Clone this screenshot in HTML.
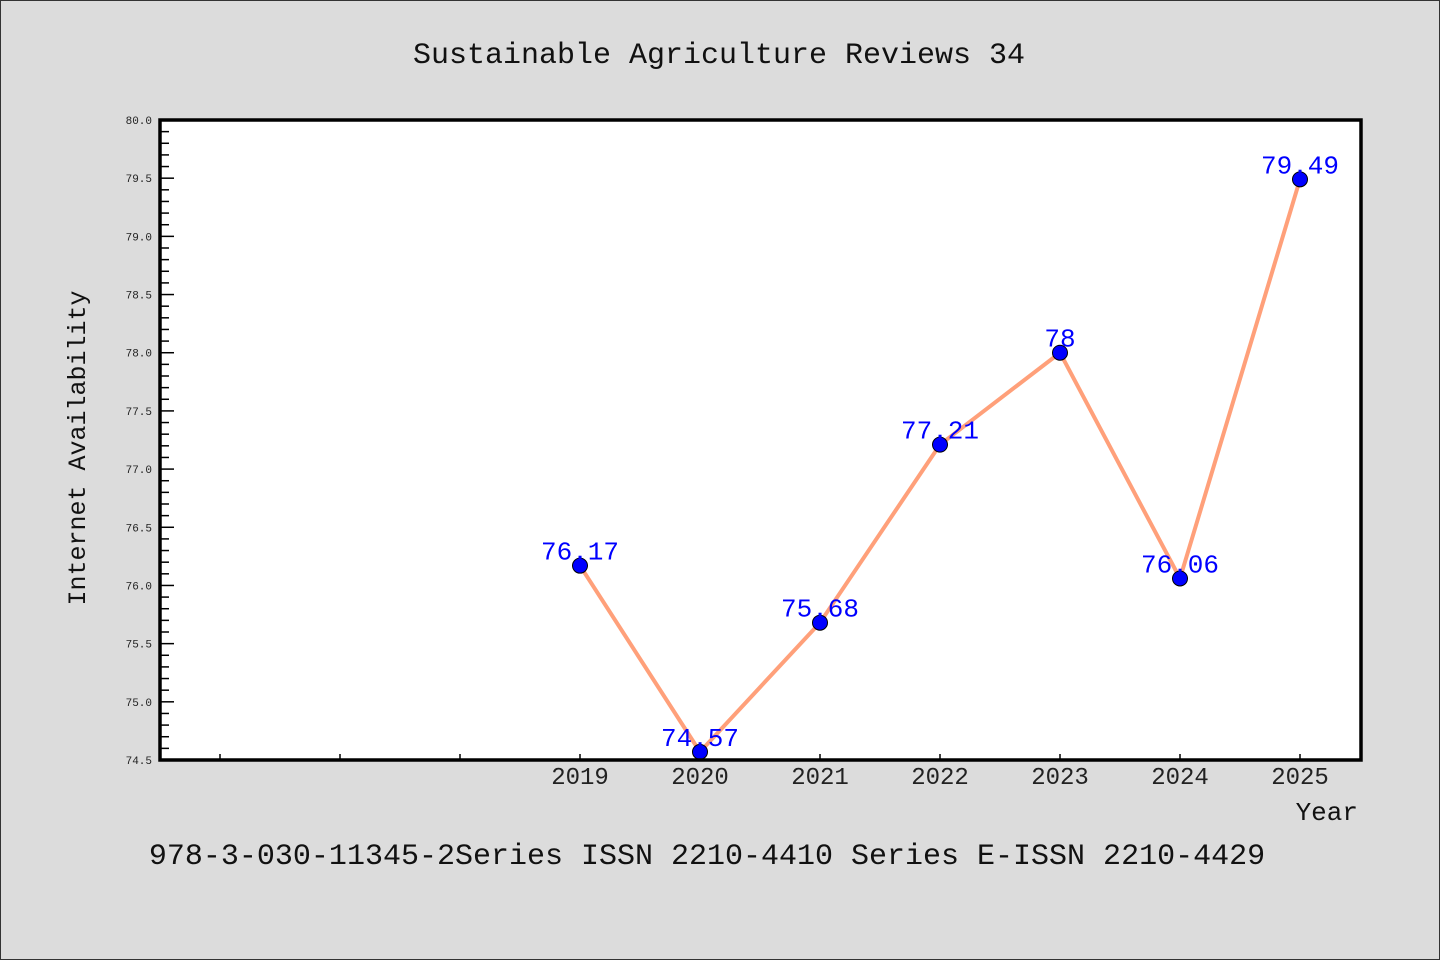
<!DOCTYPE html>
<html><head><meta charset="utf-8"><style>
html,body{margin:0;padding:0;background:#dcdcdc;}
svg{display:block;}
text{font-family:"Liberation Mono","WenQuanYi Zen Hei",monospace;}
</style></head><body>
<svg id="chart" width="1440" height="960" xmlns="http://www.w3.org/2000/svg">
<rect x="0.5" y="0.5" width="1439" height="959" fill="#dcdcdc" stroke="#333" stroke-width="1"/>
<text x="719" y="63" font-size="30" text-anchor="middle" fill="#111">Sustainable Agriculture Reviews 34</text>
<rect x="160" y="120" width="1201" height="640" fill="#fff"/>
<g id="yaxis"></g>
<g id="xaxis"></g>
<g id="series"></g>
<rect x="160" y="120" width="1201" height="640" fill="none" stroke="#000" stroke-width="3.5"/>
<text transform="translate(85,448) rotate(-90)" font-size="25" text-anchor="middle" fill="#111">Internet Availability</text>
<text x="1358" y="820" font-size="26" text-anchor="end" fill="#111">Year</text>
<text x="707" y="864" font-size="30" text-anchor="middle" fill="#111">978-3-030-11345-2Series ISSN 2210-4410 Series E-ISSN 2210-4429</text>
</svg>
<script>
const categories = ["2019","2020","2021","2022","2023","2024","2025"];
const values = [76.17, 74.57, 75.68, 77.21, 78, 76.06, 79.49];
const valueLabels = ["76.17","74.57","75.68","77.21","78","76.06","79.49"];
const yTicks = [74.5,75.0,75.5,76.0,76.5,77.0,77.5,78.0,78.5,79.0,79.5,80.0];
const NS="http://www.w3.org/2000/svg";
const yMin=74.5,yMax=80,yTop=120,yBot=760;
function y(v){return yBot-(v-yMin)/(yMax-yMin)*(yBot-yTop);}
function x(i){return 580+i*120;}
function mk(tag,attrs,parent){const e=document.createElementNS(NS,tag);for(const k in attrs)e.setAttribute(k,attrs[k]);parent.appendChild(e);return e;}
const ya=document.getElementById('yaxis'),xa=document.getElementById('xaxis'),se=document.getElementById('series');
for(let k=0;k<yTicks.length;k++){
  const v=yTicks[k];
  const t=mk('line',{x1:160,x2:174,y1:y(v),y2:y(v),stroke:'#000','stroke-width':1.5},ya);
  
  
  const l=mk('text',{x:152,y:y(v)+4,'font-size':11,'text-anchor':'end',fill:'#222'},ya);
  
  
  l.textContent=v.toFixed(1);
  if(k<yTicks.length-1){
    for(let m=1;m<5;m++){
      const mv=v+m*0.1;
      const mt=mk('line',{x1:160,x2:169,y1:y(mv),y2:y(mv),stroke:'#000','stroke-width':1.5},ya);
      
      
    }
  }
}
for(let i=-3;i<categories.length;i++){
  const t=mk('line',{x1:x(i),x2:x(i),y1:760,y2:754,stroke:'#000','stroke-width':1.5},xa);
  
  
}
categories.forEach((c,i)=>{
  const l=mk('text',{x:x(i),y:784,'font-size':24,'text-anchor':'middle',fill:'#222'},xa);
  
  
  l.textContent=c;
});
const line=mk('polyline',{points:values.map((v,i)=>x(i)+','+y(v)).join(' '),fill:'none',stroke:'#ffa07a','stroke-width':4,'stroke-linejoin':'round'},se);


values.forEach((v,i)=>{
  const c=mk('circle',{cx:x(i),cy:y(v),r:7.5,fill:'#0000ff',stroke:'#000','stroke-width':1},se);
  
  
});
values.forEach((v,i)=>{
  const l=mk('text',{x:x(i),y:y(v)-6,'font-size':26,'text-anchor':'middle',fill:'#0000ff'},se);
  
  
  l.textContent=valueLabels[i];
});
</script>
</body></html>
